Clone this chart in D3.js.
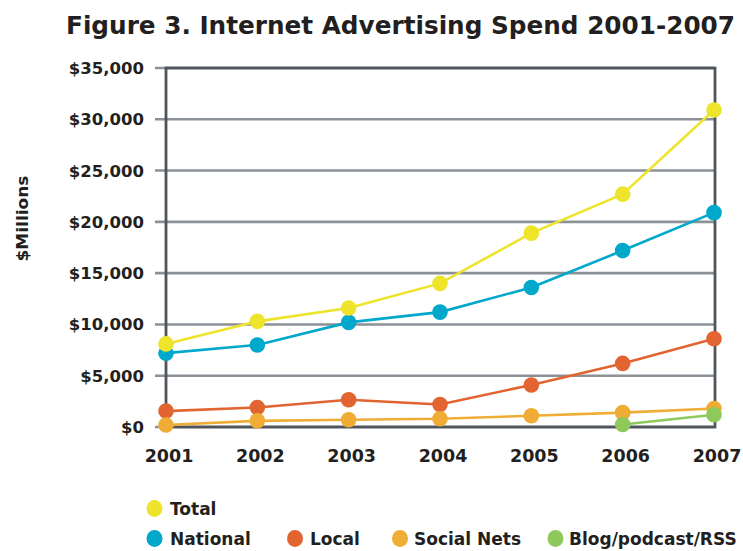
<!DOCTYPE html>
<html>
<head>
<meta charset="utf-8">
<script src="https://cdn.jsdelivr.net/npm/d3@7"></script>
<style>
  body { margin: 0; background: #fff; }
  text { font-family: "DejaVu Sans", sans-serif; font-weight: bold; fill: #231f20; }
</style>
</head>
<body>
<div id="chart"></div>
<script>
// Data ($ millions)
const years = [2001, 2002, 2003, 2004, 2005, 2006, 2007]
const total = [8100, 10300, 11600, 14000, 18900, 22700, 30900]
const national = [7200, 8000, 10200, 11200, 13600, 17200, 20900]
const local = [1550, 1900, 2650, 2200, 4100, 6200, 8600]
const socialNets = [200, 600, 700, 800, 1100, 1400, 1800]
const blog = [null, null, null, null, null, 250, 1200]
const yTicks = [0, 5000, 10000, 15000, 20000, 25000, 30000, 35000]

const seriesNames = ['National', 'Total', 'Local', 'Social Nets', 'Blog/podcast/RSS']
const seriesValues = [national, total, local, socialNets, blog]
const colors = {
    'Total': '#eee42c',
    'National': '#00a8cb',
    'Local': '#e16431',
    'Social Nets': '#f0ad36',
    'Blog/podcast/RSS': '#90c95b'
}

const dimensions = { width: 743, height: 551 }
const plot = { left: 166, right: 714, top: 68, bottom: 427 }

const svg = d3.select('#chart')
    .append('svg')
    .attr('width', dimensions.width)
    .attr('height', dimensions.height)

const x = d3.scalePoint()
    .domain(years)
    .range([plot.left, plot.right])

const y = d3.scaleLinear()
    .domain([0, 35000])
    .range([plot.bottom, plot.top])

// title
svg.append('text')
    .attr('x', 66)
    .attr('y', 34)
    .attr('textLength', 669)
    .attr('lengthAdjust', 'spacingAndGlyphs')
    .style('font-size', '25px')
    .text('Figure 3. Internet Advertising Spend 2001-2007')

// gridlines, running a bit past the y axis like ticks
svg.append('g')
    .selectAll('line')
    .data(yTicks)
    .join('line')
    .attr('x1', plot.left - 11)
    .attr('x2', plot.right)
    .attr('y1', d => y(d))
    .attr('y2', d => y(d))
    .attr('stroke', '#8b9197')
    .attr('stroke-width', 2.6)

// frame
svg.append('rect')
    .attr('x', plot.left)
    .attr('y', plot.top)
    .attr('width', plot.right - plot.left + 1)
    .attr('height', plot.bottom - plot.top)
    .attr('fill', 'none')
    .attr('stroke', '#4f555a')
    .attr('stroke-width', 2.8)

// y axis labels
const fmt = d3.format(',')
svg.append('g')
    .selectAll('text')
    .data(yTicks)
    .join('text')
    .attr('x', 144)
    .attr('y', d => y(d))
    .attr('dy', '0.36em')
    .attr('text-anchor', 'end')
    .style('font-size', '16.5px')
    .text(d => '$' + fmt(d))

// x axis labels
svg.append('g')
    .selectAll('text')
    .data(years)
    .join('text')
    .attr('x', d => x(d) + 3)
    .attr('y', 462)
    .attr('text-anchor', 'middle')
    .style('font-size', '17.5px')
    .text(d => d)

// y axis title
svg.append('text')
    .attr('transform', 'translate(27.5,218.5) rotate(-90)')
    .attr('text-anchor', 'middle')
    .attr('textLength', 86)
    .attr('lengthAdjust', 'spacingAndGlyphs')
    .style('font-size', '16px')
    .text('$Millions')

// lines and dots
const line = d3.line()
    .defined(d => d.v !== null)
    .x(d => x(d.year))
    .y(d => y(d.v))

seriesNames.forEach((name, i) => {
    const pts = years.map((yr, j) => ({ year: yr, v: seriesValues[i][j] }))
    const g = svg.append('g')
    g.append('path')
        .datum(pts)
        .attr('d', line)
        .attr('fill', 'none')
        .attr('stroke', colors[name])
        .attr('stroke-width', 2.6)
    g.selectAll('circle')
        .data(pts.filter(d => d.v !== null))
        .join('circle')
        .attr('cx', d => x(d.year))
        .attr('cy', d => y(d.v))
        .attr('r', 7.8)
        .attr('fill', colors[name])
})

// legend
const legendItems = [
    { name: 'Total', cx: 154.5, cy: 508.5, tx: 170 },
    { name: 'National', cx: 154.5, cy: 538.5, tx: 170 },
    { name: 'Local', cx: 295, cy: 538.5, tx: 310 },
    { name: 'Social Nets', cx: 400, cy: 538.5, tx: 414 },
    { name: 'Blog/podcast/RSS', cx: 555.5, cy: 538.5, tx: 569 }
]
const legend = svg.append('g')
legend.selectAll('ellipse')
    .data(legendItems)
    .join('ellipse')
    .attr('cx', d => d.cx)
    .attr('cy', d => d.cy)
    .attr('rx', 8)
    .attr('ry', 8.5)
    .attr('fill', d => colors[d.name])
legend.selectAll('text')
    .data(legendItems)
    .join('text')
    .attr('x', d => d.tx)
    .attr('y', d => d.cy)
    .attr('dy', '0.36em')
    .style('font-size', '17px')
    .text(d => d.name)
</script>
</body>
</html>
